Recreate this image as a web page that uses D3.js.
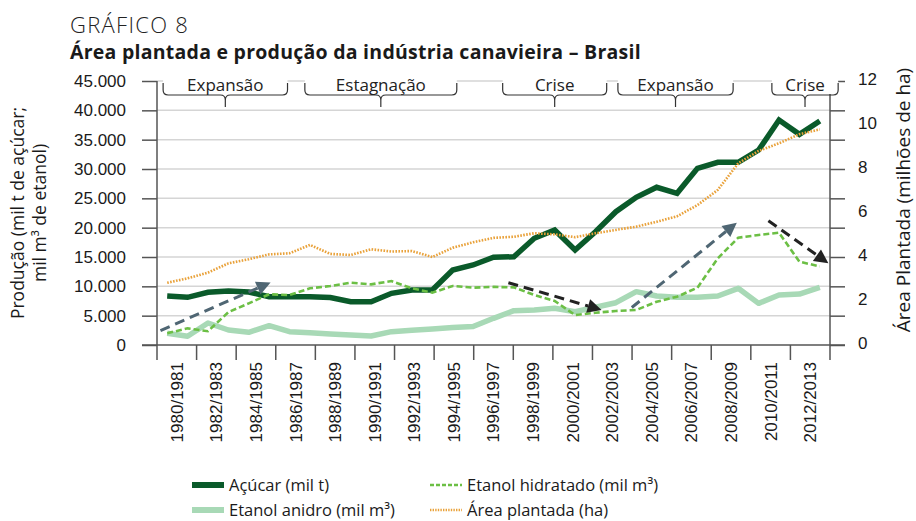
<!DOCTYPE html>
<html>
<head>
<meta charset="utf-8">
<style>
    body {
        margin: 0;
        background: #fff;
        font-family: 'Open Sans', 'Noto Sans', sans-serif;
    }

    svg {
        display: block;
    }

    .grid line {
        stroke: #d5d5d5;
        stroke-width: 1.5;
    }

    .axis text {
        font-size: 17px;
        fill: #1a1a1a;
    }

    .axis line,
    .axis path {
        stroke: #555;
        stroke-width: 1.5;
    }

    .brace {
        fill: none;
        stroke: #333;
        stroke-width: 1.2;
    }

    .period {
        font-size: 17px;
        fill: #222;
    }

    .legend text {
        font-size: 16.5px;
        fill: #1a1a1a;
    }
</style>
</head>

<body>
<svg width="916" height="521"></svg>

<script src="https://d3js.org/d3.v7.min.js"></script>
<script>
    // safras (33)
    let seasons = [
        "1980/1981", "1981/1982", "1982/1983", "1983/1984", "1984/1985", "1985/1986",
        "1986/1987", "1987/1988", "1988/1989", "1989/1990", "1990/1991", "1991/1992",
        "1992/1993", "1993/1994", "1994/1995", "1995/1996", "1996/1997", "1997/1998",
        "1998/1999", "1999/2000", "2000/2001", "2001/2002", "2002/2003", "2003/2004",
        "2004/2005", "2005/2006", "2006/2007", "2007/2008", "2008/2009", "2009/2010",
        "2010/2011", "2011/2012", "2012/2013"
    ]

    let tickLabels = [
        "1980/1981", "1982/1983", "1984/1985", "1986/1987", "1988/1989", "1990/1991",
        "1992/1993", "1994/1995", "1996/1997", "1998/1999", "2000/2001", "2002/2003",
        "2004/2005", "2006/2007", "2008/2009", "2010/2011", "2012/2013"
    ]

    let leftTicks = [0, 5000, 10000, 15000, 20000, 25000, 30000, 35000, 40000, 45000]
    let rightTicks = [0, 2, 4, 6, 8, 10, 12]

    // mil t
    let acucar = [8350, 8130, 8980, 9200, 9030, 8230, 8230, 8230, 8100, 7380, 7380,
        8810, 9375, 9375, 12780, 13640, 14950, 15050, 18190, 19600, 16190, 19310,
        22720, 25180, 26880, 25860, 30120, 31140, 31140, 33240, 38350, 35910, 38180]

    // mil m3
    let hidratado = [2000, 2840, 2350, 5600, 7100, 8650, 8520, 9660, 10060, 10620, 10340,
        10900, 9660, 8920, 10060, 9770, 9900, 9830, 8520, 7500, 5110, 5500,
        5800, 5970, 7380, 8230, 9770, 14780, 18290, 18750, 19140, 14200, 13400]

    // mil m3
    let anidro = [2000, 1500, 3750, 2560, 2160, 3290, 2270, 2100, 1870, 1700, 1530,
        2270, 2500, 2730, 3000, 3150, 4550, 5850, 5970, 6250, 5680, 6430,
        7210, 9090, 8350, 8130, 8130, 8350, 9660, 7100, 8520, 8690, 9830]

    // milhões de ha
    let area = [2.83, 3.03, 3.29, 3.71, 3.90, 4.12, 4.17, 4.55, 4.14, 4.09, 4.35,
        4.25, 4.27, 4.00, 4.42, 4.67, 4.87, 4.92, 5.08, 5.03, 4.90, 5.08,
        5.23, 5.38, 5.60, 5.85, 6.36, 7.05, 8.26, 8.82, 9.17, 9.58, 9.80]

    // periodos (indice de safra inicial / final)
    let periods = ["Expansão", "Estagnação", "Crise", "Expansão", "Crise"]
    let periodStart = [-0.2, 6.75, 16.45, 22.1, 29.65]
    let periodEnd = [5.9, 14.2, 21.55, 27.75, 32.9]

    // setas (indice de safra, mil t)
    let arrowFrom = [[-0.33, 2470], [16.73, 10620], [22.78, 6390], [29.48, 21190]]
    let arrowTo = [[5.07, 10650], [21.3, 5970], [27.93, 20840], [32.42, 13930]]
    let arrowColors = ["#4f6673", "#222222", "#4f6673", "#222222"]

    let svg = d3.select("svg")

    let plot = { left: 157, right: 830, top: 81, bottom: 345 }

    let x = d3.scaleBand()
        .domain(seasons)
        .range([plot.left, plot.right])

    let xIdx = d3.scaleLinear()
        .domain([-0.5, seasons.length - 0.5])
        .range([plot.left, plot.right])

    let xLab = d3.scaleBand()
        .domain(tickLabels)
        .range([plot.left, plot.right])

    let y = d3.scaleLinear()
        .domain([0, 45000])
        .range([plot.bottom, plot.top])

    let yR = d3.scaleLinear()
        .domain([0, 12])
        .range([plot.bottom, plot.top])

    // titles
    svg.append("text")
        .attr("x", 70)
        .attr("y", 33)
        .style("font-size", "22px")
        .style("font-weight", 300)
        .style("letter-spacing", "1.3px")
        .style("fill", "#222")
        .text("GRÁFICO 8")

    svg.append("text")
        .attr("x", 70)
        .attr("y", 59)
        .style("font-size", "19.5px")
        .style("font-weight", 700)
        .style("letter-spacing", "0.25px")
        .style("fill", "#1a1a1a")
        .text("Área plantada e produção da indústria canavieira – Brasil")

    // grid
    svg.append("g")
        .attr("class", "grid")
        .selectAll("line")
        .data(leftTicks.filter(d => d > 0))
        .join("line")
        .attr("x1", plot.left)
        .attr("x2", plot.right)
        .attr("y1", d => y(d))
        .attr("y2", d => y(d))

    // left axis
    svg.append("g")
        .attr("class", "axis")
        .attr("transform", `translate(${plot.left},0)`)
        .call(d3.axisLeft(y)
            .tickValues(leftTicks)
            .tickSize(15)
            .tickPadding(16)
            .tickFormat(d => d3.format(",")(d).replace(/,/g, ".")))
        .call(g => g.select(".domain").attr("d", `M0,${plot.top}V${plot.bottom + 15}`))

    // right axis: marks follow the left grid, labels the right scale
    svg.append("g")
        .attr("class", "axis")
        .attr("transform", `translate(${plot.right},0)`)
        .call(d3.axisRight(y)
            .tickValues(leftTicks)
            .tickSize(15)
            .tickFormat(""))
        .call(g => g.select(".domain").attr("d", `M0,${plot.top}V${plot.bottom + 15}`))

    svg.append("g")
        .attr("class", "axis")
        .attr("transform", `translate(${plot.right},0)`)
        .call(d3.axisRight(yR)
            .tickValues(rightTicks)
            .tickSize(0)
            .tickPadding(28))
        .call(g => g.select(".domain").remove())
        .call(g => g.selectAll("text").attr("y", -2))

    // bottom axis
    let xAxis = svg.append("g")
        .attr("class", "axis")
        .attr("transform", `translate(0,${plot.bottom})`)
        .call(d3.axisBottom(xLab).tickSize(0))
        .call(g => g.select(".domain").attr("d", `M${plot.left - 15},0H${plot.right + 15}`))

    xAxis.selectAll(".tick text")
        .attr("transform", "rotate(-90)")
        .attr("x", -17)
        .attr("y", 0)
        .attr("dy", "0.35em")
        .style("text-anchor", "end")

    xAxis.selectAll(".sep")
        .data(tickLabels.slice(1))
        .join("line")
        .attr("class", "sep")
        .attr("x1", d => xLab(d))
        .attr("x2", d => xLab(d))
        .attr("y1", 0)
        .attr("y2", 15)

    // axis titles
    let leftTitle = svg.append("text")
        .attr("transform", "translate(24,213) rotate(-90)")
        .attr("text-anchor", "middle")
        .style("font-size", "17.5px")
        .style("fill", "#1a1a1a")

    leftTitle.append("tspan")
        .attr("x", 0)
        .attr("dy", 0)
        .text("Produção (mil t de açúcar;")

    leftTitle.append("tspan")
        .attr("x", 0)
        .attr("dy", 22)
        .text("mil m³ de etanol)")

    svg.append("text")
        .attr("transform", "translate(910,200) rotate(-90)")
        .attr("text-anchor", "middle")
        .style("font-size", "19px")
        .style("fill", "#1a1a1a")
        .text("Área Plantada (milhões de ha)")

    // period braces
    let braces = svg.append("g")
        .selectAll("g")
        .data(periods)
        .join("g")

    braces.append("rect")
        .attr("x", (d, i) => xIdx(periodStart[i]))
        .attr("y", 78)
        .attr("width", (d, i) => xIdx(periodEnd[i]) - xIdx(periodStart[i]))
        .attr("height", 16)
        .attr("fill", "#fff")

    braces.append("path")
        .attr("class", "brace")
        .attr("d", (d, i) => {
            let x0 = xIdx(periodStart[i])
            let x1 = xIdx(periodEnd[i])
            let xm = (x0 + x1) / 2
            return `M${x0},83 V90 Q${x0},95 ${x0 + 5},95 H${xm - 5} Q${xm},95 ${xm},100 V107`
                + ` M${xm},100 Q${xm},95 ${xm + 5},95 H${x1 - 5} Q${x1},95 ${x1},90 V83`
        })

    braces.append("text")
        .attr("class", "period")
        .attr("x", (d, i) => (xIdx(periodStart[i]) + xIdx(periodEnd[i])) / 2)
        .attr("y", 91)
        .attr("text-anchor", "middle")
        .text(d => d)

    // series
    let lineL = d3.line()
        .x((d, i) => x(seasons[i]) + x.bandwidth() / 2)
        .y(d => y(d))

    let lineR = d3.line()
        .x((d, i) => x(seasons[i]) + x.bandwidth() / 2)
        .y(d => yR(d))

    svg.append("path")
        .attr("d", lineL(anidro))
        .attr("fill", "none")
        .attr("stroke", "#a8d9b6")
        .attr("stroke-width", 5.5)
        .attr("stroke-linejoin", "round")

    svg.append("path")
        .attr("d", lineL(acucar))
        .attr("fill", "none")
        .attr("stroke", "#0a5a2a")
        .attr("stroke-width", 5.5)
        .attr("stroke-linejoin", "miter")

    svg.append("path")
        .attr("d", lineL(hidratado))
        .attr("fill", "none")
        .attr("stroke", "#6cbf45")
        .attr("stroke-width", 2.6)
        .attr("stroke-dasharray", "6,3")

    svg.append("path")
        .attr("d", lineR(area))
        .attr("fill", "none")
        .attr("stroke", "#e9a23b")
        .attr("stroke-width", 2.6)
        .attr("stroke-dasharray", "1.6,1.4")

    // arrows
    arrowFrom.forEach((f, i) => {
        let x0 = xIdx(f[0]), y0 = y(f[1])
        let x1 = xIdx(arrowTo[i][0]), y1 = y(arrowTo[i][1])
        let a = Math.atan2(y1 - y0, x1 - x0)
        let len = 14, half = 7
        let bx = x1 - len * Math.cos(a), by = y1 - len * Math.sin(a)

        svg.append("line")
            .attr("x1", x0).attr("y1", y0)
            .attr("x2", bx).attr("y2", by)
            .attr("stroke", arrowColors[i])
            .attr("stroke-width", 3)
            .attr("stroke-dasharray", "10,6")

        svg.append("path")
            .attr("d", `M${x1},${y1} L${bx - half * Math.sin(a)},${by + half * Math.cos(a)}`
                + ` L${bx + half * Math.sin(a)},${by - half * Math.cos(a)} Z`)
            .attr("fill", arrowColors[i])
    })

    // legend
    let legend = svg.append("g").attr("class", "legend")

    let legendItems = [
        { label: "Açúcar (mil t)", color: "#0a5a2a", w: 6, dash: null, col: 0, row: 0 },
        { label: "Etanol hidratado (mil m³)", color: "#6cbf45", w: 2.6, dash: "4,2", col: 1, row: 0 },
        { label: "Etanol anidro (mil m³)", color: "#a8d9b6", w: 6, dash: null, col: 0, row: 1 },
        { label: "Área plantada (ha)", color: "#e9a23b", w: 2.6, dash: "1.4,1.2", col: 1, row: 1 }
    ]

    let colX = [192, 430]
    let rowY = [485, 510]

    legend.selectAll("line")
        .data(legendItems)
        .join("line")
        .attr("x1", d => colX[d.col])
        .attr("x2", d => colX[d.col] + 32)
        .attr("y1", d => rowY[d.row])
        .attr("y2", d => rowY[d.row])
        .attr("stroke", d => d.color)
        .attr("stroke-width", d => d.w)
        .attr("stroke-dasharray", d => d.dash)

    legend.selectAll("text")
        .data(legendItems)
        .join("text")
        .attr("x", d => colX[d.col] + 37)
        .attr("y", d => rowY[d.row])
        .attr("dy", "0.35em")
        .text(d => d.label)
</script>
</body>
</html>
